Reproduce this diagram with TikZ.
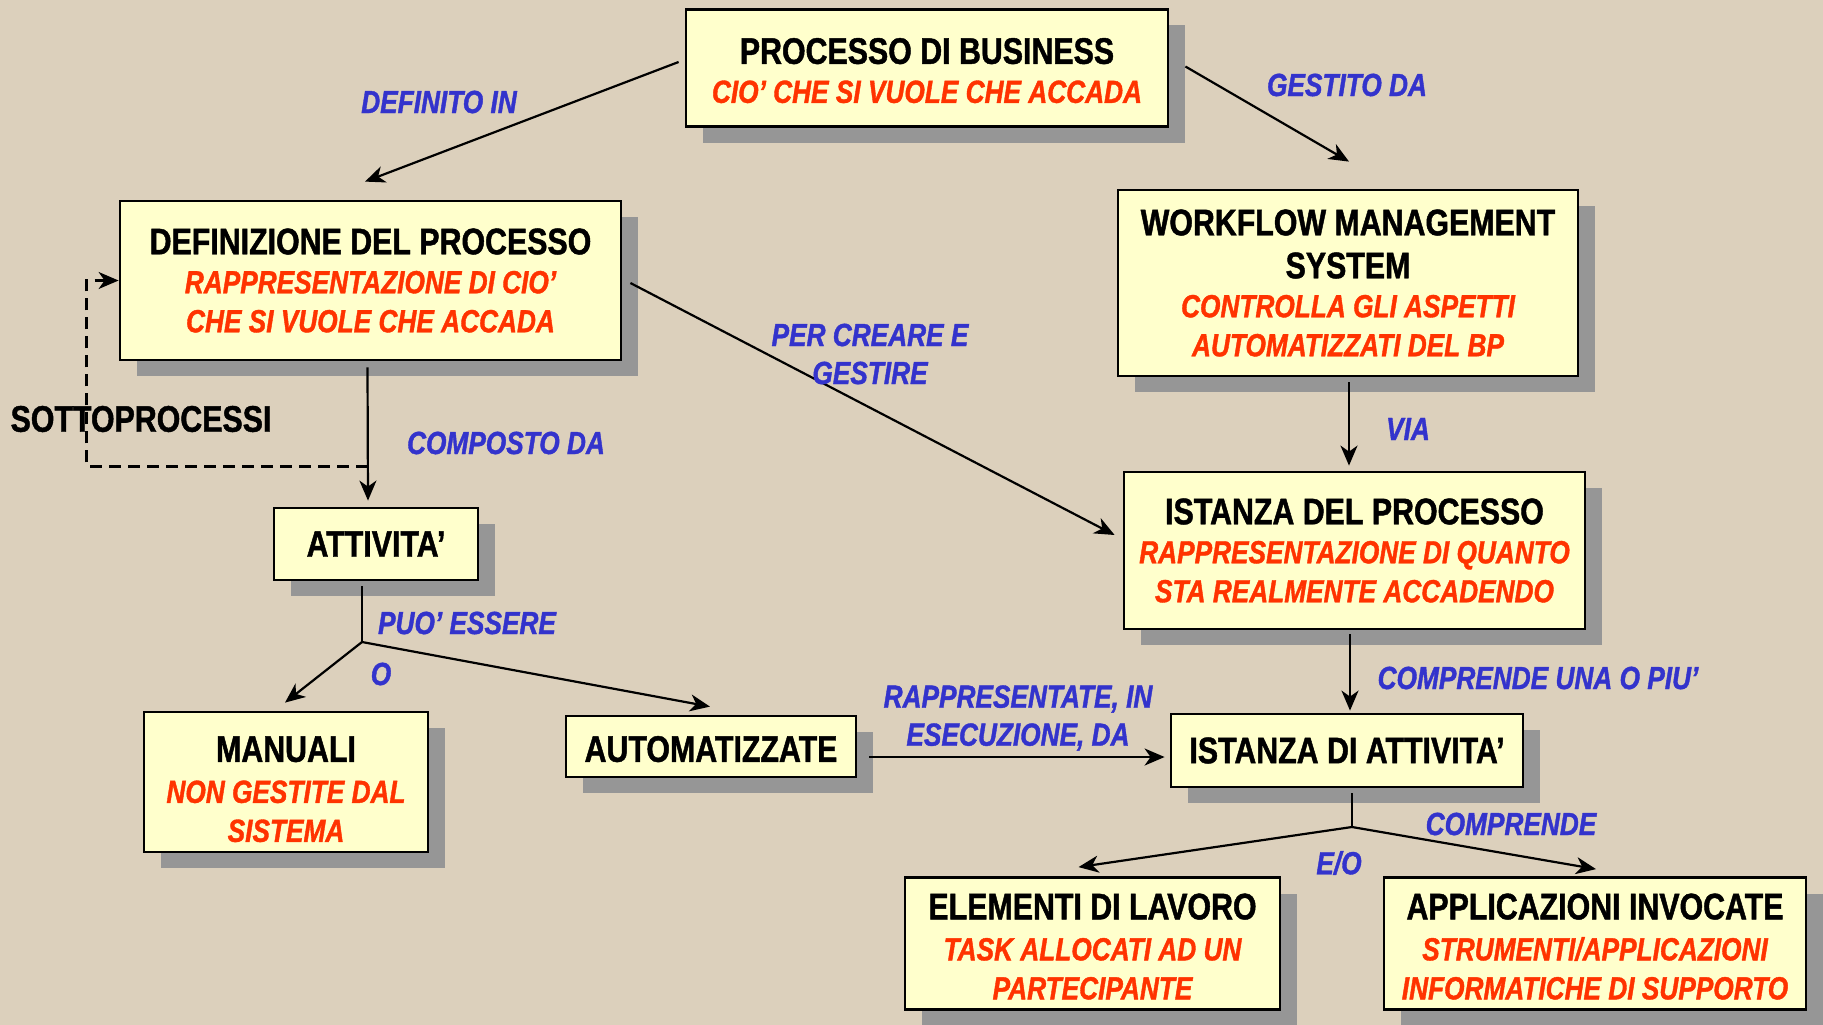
\documentclass[tikz,border=0pt]{standalone}
\usepackage{fontspec}
\setmainfont{Liberation Sans}[FakeStretch=0.82, BoldFeatures={FakeBold=1.2}, BoldItalicFeatures={FakeBold=1.2}]
\usetikzlibrary{arrows.meta,shadows,calc}
\definecolor{bgcol}{RGB}{220,208,188}
\definecolor{boxfill}{RGB}{255,255,204}
\definecolor{shadowgray}{RGB}{150,150,150}
\definecolor{redtxt}{RGB}{255,51,0}
\definecolor{bluetxt}{RGB}{51,51,204}
\newcommand{\boxtitle}{\fontsize{37}{39}\selectfont\bfseries\color{black}}
\newcommand{\redline}{\fontsize{32}{39}\selectfont\bfseries\itshape\color{redtxt}}
\newcommand{\bluelabel}{\fontsize{32}{38}\selectfont\bfseries\itshape\color{bluetxt}}
\newcommand{\topstrut}[1]{\rule{0pt}{#1}}
\tikzset{
  box/.style={draw=black, line width=2.8pt, fill=boxfill, align=center, inner sep=0pt,
    font=\boxtitle,
    general shadow={fill=shadowgray, shadow xshift=17pt, shadow yshift=-16pt}},
  lbl/.style={align=center, inner sep=0pt, font=\bluelabel},
  tip/.style={-{Stealth[length=20pt,width=17pt,inset=6pt]}},
  arr/.style={line width=2.2pt, tip},
  plain/.style={line width=2.2pt},
  dashline/.style={line width=2.2pt, dash pattern=on 12pt off 7pt}
}
\begin{document}
\begin{tikzpicture}[x=1pt,y=-1pt]
\fill[bgcol] (0,0) rectangle (1823,1025);
\useasboundingbox (0,0) rectangle (1823,1025);

% boxes
\node[box, minimum width=482pt, minimum height=117pt] (pb) at (927,68)
  {\topstrut{31pt}PROCESSO DI BUSINESS\\ \redline CIO’ CHE SI VUOLE CHE ACCADA};
\node[box, minimum width=501pt, minimum height=159pt] (def) at (370.5,280.5)
  {DEFINIZIONE DEL PROCESSO\\ \redline RAPPRESENTAZIONE DI CIO’\\ \redline CHE SI VUOLE CHE ACCADA};
\node[box, minimum width=460pt, minimum height=186pt] (wms) at (1348,283)
  {WORKFLOW MANAGEMENT\\[4pt] SYSTEM\\ \redline CONTROLLA GLI ASPETTI\\ \redline AUTOMATIZZATI DEL BP};
\node[box, minimum width=461pt, minimum height=157pt] (ist) at (1354.5,550.5)
  {ISTANZA DEL PROCESSO\\ \redline RAPPRESENTAZIONE DI QUANTO\\ \redline STA REALMENTE ACCADENDO};
\node[box, minimum width=204pt, minimum height=72pt] (att) at (376,544)
  {ATTIVITA’};
\node[box, minimum width=284pt, minimum height=140pt] (man) at (286,782)
  {\topstrut{40pt}MANUALI\\[2pt] \redline NON GESTITE DAL\\ \redline SISTEMA};
\node[box, minimum width=290pt, minimum height=61pt] (auto) at (711,746.5)
  {\topstrut{31pt}AUTOMATIZZATE};
\node[box, minimum width=352pt, minimum height=73pt] (istatt) at (1347,750.5)
  {ISTANZA DI ATTIVITA’};
\node[box, minimum width=375pt, minimum height=132pt] (elem) at (1092.5,943.5)
  {\topstrut{32pt}ELEMENTI DI LAVORO\\[2pt] \redline TASK ALLOCATI AD UN\\ \redline PARTECIPANTE};
\node[box, minimum width=422pt, minimum height=132pt] (app) at (1595,943.5)
  {\topstrut{32pt}APPLICAZIONI INVOCATE\\[2pt] \redline STRUMENTI/APPLICAZIONI\\ \redline INFORMATICHE DI SUPPORTO};

% branch points
\coordinate (attbranch) at (362,642);
\coordinate (iabranch) at (1352,827);

% connectors
\draw[arr] ($(pb.west)+(-6,-6)$) -- ($(def.north)+(-5.5,-18)$);
\draw[arr] ($(pb.east)+(16,-1.5)$) -- ($(wms.north)+(1,-27)$);
\draw[arr] ($(def.east)+(8,2.5)$) -- ($(ist.west)+(-8,-15.5)$);
\draw[arr] ($(def.south)+(-3,6)$) -- ($(att.north)+(-8,-6)$);
\draw[dashline, tip]
  ($(def.south)+(-3,105)$) -- ++(-281,0) |- (def.west);
\draw[arr] ($(wms.south)+(1,5)$) -- ($(ist.north)+(-5.5,-5)$);
\draw[arr] ($(ist.south)+(-4.5,4)$) -- ($(istatt.north)+(3,-2)$);
\draw[plain] ($(att.south)+(-14,5)$) -- (attbranch);
\draw[arr] (attbranch) -- ($(man.north)+(-1,-8)$);
\draw[arr] (attbranch) -- ($(auto.north)+(-1,-8)$);
\draw[arr] ($(auto.east)+(12,10.5)$) -- ($(istatt.west)+(-5,6.5)$);
\draw[plain] ($(istatt.south)+(5,5)$) -- (iabranch);
\draw[arr] (iabranch) -- ($(elem.north)+(-14,-9)$);
\draw[arr] (iabranch) -- ($(app.north)+(1,-7)$);

% labels
\node[lbl] (l1) at (439,102) {DEFINITO IN};
\node[lbl] (l2) at (1347,85) {GESTITO DA};
\node[lbl] (l3) at (870,354) {PER CREARE E\\ GESTIRE};
\node[lbl] (l4) at (506,443) {COMPOSTO DA};
\node[lbl] (l5) at (1408,429) {VIA};
\node[lbl] (l6) at (467,623) {PUO’ ESSERE};
\node[lbl] (l7) at (381,674) {O};
\node[lbl] (l8) at (1018,718) {RAPPRESENTATE, IN\\ ESECUZIONE, DA};
\node[lbl] (l9) at (1538,678) {COMPRENDE UNA O PIU’};
\node[lbl] (l10) at (1511,824) {COMPRENDE};
\node[lbl] (l11) at (1339,863) {E/O};
\node[inner sep=0pt, font=\boxtitle] (sp) at (141,419) {SOTTOPROCESSI};
\end{tikzpicture}
\end{document}
